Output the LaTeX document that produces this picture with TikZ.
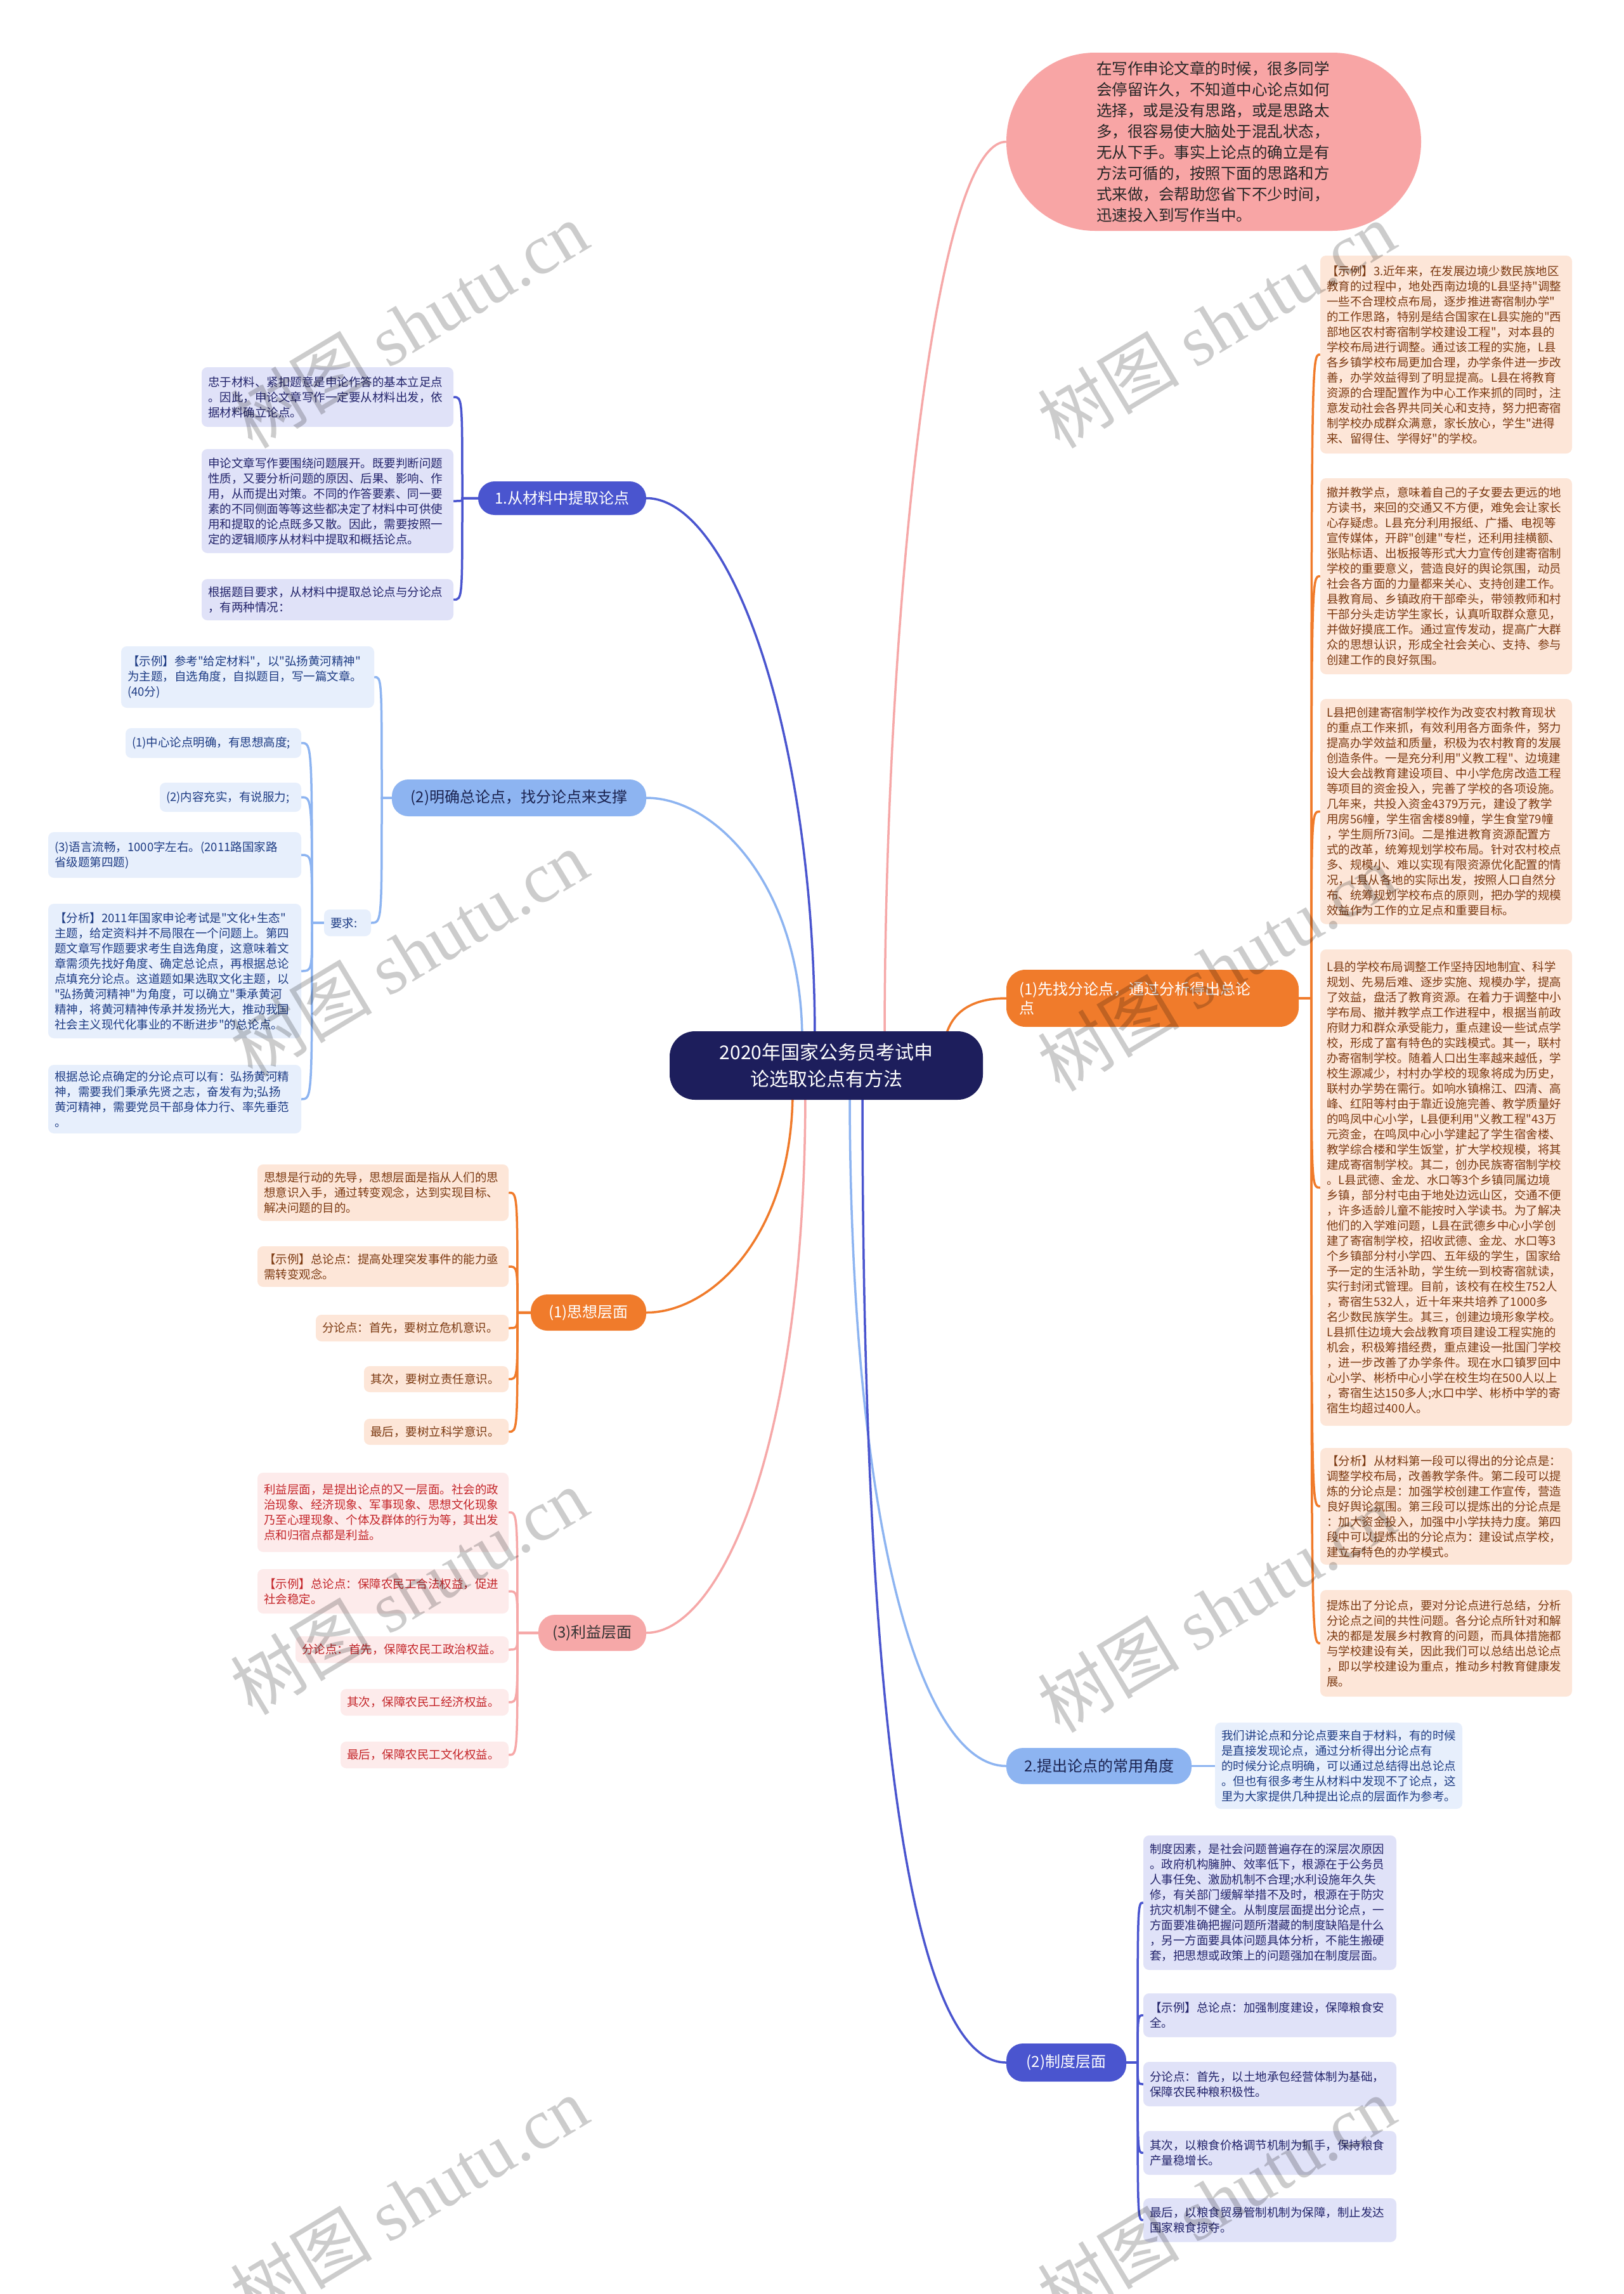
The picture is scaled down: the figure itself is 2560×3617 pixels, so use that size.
\documentclass[tikz,border=0pt]{standalone}
\usepackage{fontspec}
\newfontfamily\cjk{Noto Sans CJK SC}
\newfontfamily\wmlat{Liberation Serif}
\pgfdeclarelayer{bg}
\pgfsetlayers{bg,main}
\definecolor{navy}{HTML}{1D1E5C}
\definecolor{indi}{HTML}{4A55CF}
\definecolor{lav}{HTML}{E0E2F8}
\definecolor{lavtxt}{HTML}{23246B}
\definecolor{lblue}{HTML}{8DB4F1}
\definecolor{lbluefill}{HTML}{E7EFFC}
\definecolor{lbluetxt}{HTML}{1E3C84}
\definecolor{orng}{HTML}{F07B2B}
\definecolor{peach}{HTML}{FDE6D8}
\definecolor{browntxt}{HTML}{7C3A12}
\definecolor{pinkb}{HTML}{F6A8A8}
\definecolor{pinkfill}{HTML}{FDEBEB}
\definecolor{redtxt}{HTML}{C4262A}
\definecolor{ellfill}{HTML}{F8A5A5}
\definecolor{darktxt}{HTML}{1B2350}
\tikzset{
  leaf/.style={rounded corners=9pt, align=left, font=\cjk\fontsize{18.5}{24}\selectfont},
  lavleaf/.style={leaf, fill=lav, text=lavtxt},
  blueleaf/.style={leaf, fill=lbluefill, text=lbluetxt},
  peachleaf/.style={leaf, fill=peach, text=browntxt},
  pinkleaf/.style={leaf, fill=pinkfill, text=redtxt},
  branch/.style={rounded corners=26pt, align=center, font=\cjk\fontsize{24}{30}\selectfont},
  cindi/.style={draw=indi, line width=3.5pt},
  cblue/.style={draw=lblue, line width=3.5pt},
  corng/.style={draw=orng, line width=3.5pt},
  cpink/.style={draw=pinkb, line width=3.5pt},
  wm/.style={text=black, text opacity=0.2, font=\cjk\fontsize{112}{112}\selectfont, rotate=31}
}
\newcommand\bx[8]{%
  \pgfmathsetmacro\bxw{#5-#3}%
  \pgfmathsetmacro\bxh{#6-#4}%
  \pgfmathsetmacro\bxt{#5-#3-2*#7}%
  \node[#1, inner xsep=#7pt, inner ysep=2pt, minimum width=\bxw pt, minimum height=\bxh pt, text width=\bxt pt] (#2) at ({(#3+#5)/2},{(#4+#6)/2}) {#8};}
% left-side child connector: style, parent, spine x, child
\newcommand\lconn[4]{%
  \coordinate (tmpx) at (#3,0);
  \draw[#1] (#2.west) -- (#2.west -| tmpx) .. controls (#4.east -| tmpx) and (#4.east -| tmpx) .. (#4.east);}
% right-side child connector
\newcommand\rconn[4]{%
  \coordinate (tmpx) at (#3,0);
  \draw[#1] (#2.east) -- (#2.east -| tmpx) .. controls (#4.west -| tmpx) and (#4.west -| tmpx) .. (#4.west);}
\begin{document}
\begin{tikzpicture}[x=1pt,y=-1pt]
\useasboundingbox (0,0) rectangle (2560,3617);

% central node
\bx{fill=navy, text=white, rounded corners=40pt, align=center, font=\cjk\fontsize{30}{42}\selectfont}{center}{1056}{1626}{1550}{1734}{20}{2020年国家公务员考试申\\论选取论点有方法}

% top pink ellipse
\bx{fill=ellfill, text=black!85, rounded corners=140pt, align=left, font=\cjk\fontsize{24.5}{33}\selectfont}{ell}{1587}{83}{2241}{364}{142}{在写作申论文章的时候，很多同学\\
会停留许久，不知道中心论点如何\\
选择，或是没有思路，或是思路太\\
多，很容易使大脑处于混乱状态，\\
无从下手。事实上论点的确立是有\\
方法可循的，按照下面的思路和方\\
式来做，会帮助您省下不少时间，\\
迅速投入到写作当中。}

% main branches
\bx{branch, fill=indi, text=white}{N1}{754}{759}{1019}{812}{12}{1.从材料中提取论点}
\bx{branch, fill=lblue, text=darktxt}{N2}{618}{1229}{1019}{1287}{12}{(2)明确总论点，找分论点来支撑}
\bx{branch, fill=orng, text=white}{N3}{837}{2041}{1019}{2098}{12}{(1)思想层面}
\bx{branch, fill=pinkb, text=black!80}{N4}{849}{2546}{1019}{2603}{12}{(3)利益层面}
\bx{branch, fill=orng, text=white, align=left, rounded corners=30pt}{R1}{1587}{1529}{2048}{1619}{20}{(1)先找分论点，通过分析得出总论\\点}
\bx{branch, fill=lblue, text=darktxt}{R2}{1587}{2756}{1879}{2813}{12}{2.提出论点的常用角度}
\bx{branch, fill=indi, text=white}{R3}{1587}{3222}{1776}{3282}{12}{(2)制度层面}

% N1 children
\bx{lavleaf}{L1}{318}{579}{715}{673}{10}{忠于材料、紧扣题意是申论作答的基本立足点\\
。因此，申论文章写作一定要从材料出发，依\\
据材料确立论点。}
\bx{lavleaf}{L2}{318}{708}{715}{872}{10}{申论文章写作要围绕问题展开。既要判断问题\\
性质，又要分析问题的原因、后果、影响、作\\
用，从而提出对策。不同的作答要素、同一要\\
素的不同侧面等等这些都决定了材料中可供使\\
用和提取的论点既多又散。因此，需要按照一\\
定的逻辑顺序从材料中提取和概括论点。}
\bx{lavleaf}{L3}{318}{913}{715}{978}{10}{根据题目要求，从材料中提取总论点与分论点\\
，有两种情况：}

% N2 children
\bx{blueleaf}{M1}{191}{1019}{590}{1116}{10}{【示例】参考"给定材料"，以"弘扬黄河精神"\\
为主题，自选角度，自拟题目，写一篇文章。\\
(40分)}
\bx{blueleaf}{Yq}{511}{1434}{585}{1476}{10}{要求:}
\bx{blueleaf}{M2}{198}{1148}{475}{1195}{10}{(1)中心论点明确，有思想高度;}
\bx{blueleaf}{M3}{252}{1234}{475}{1280}{10}{(2)内容充实，有说服力;}
\bx{blueleaf}{M4}{76}{1312}{475}{1384}{10}{(3)语言流畅，1000字左右。(2011路国家路\\
省级题第四题)}
\bx{blueleaf}{M6}{76}{1425}{475}{1637}{10}{【分析】2011年国家申论考试是"文化+生态"\\
主题，给定资料并不局限在一个问题上。第四\\
题文章写作题要求考生自选角度，这意味着文\\
章需须先找好角度、确定总论点，再根据总论\\
点填充分论点。这道题如果选取文化主题，以\\
"弘扬黄河精神"为角度，可以确立"秉承黄河\\
精神，将黄河精神传承并发扬光大，推动我国\\
社会主义现代化事业的不断进步"的总论点。}
\bx{blueleaf}{M7}{76}{1679}{475}{1787}{10}{根据总论点确定的分论点可以有：弘扬黄河精\\
神，需要我们秉承先贤之志，奋发有为;弘扬\\
黄河精神，需要党员干部身体力行、率先垂范\\
。}

% N3 children
\bx{peachleaf}{S1}{406}{1836}{802}{1925}{10}{思想是行动的先导，思想层面是指从人们的思\\
想意识入手，通过转变观念，达到实现目标、\\
解决问题的目的。}
\bx{peachleaf}{S2}{406}{1965}{802}{2029}{10}{【示例】总论点：提高处理突发事件的能力亟\\
需转变观念。}
\bx{peachleaf}{S3}{498}{2073}{802}{2115}{10}{分论点：首先，要树立危机意识。}
\bx{peachleaf}{S4}{574}{2154}{802}{2195}{10}{其次，要树立责任意识。}
\bx{peachleaf}{S5}{574}{2237}{802}{2278}{10}{最后，要树立科学意识。}

% N4 children
\bx{pinkleaf}{P1}{406}{2322}{802}{2447}{10}{利益层面，是提出论点的又一层面。社会的政\\
治现象、经济现象、军事现象、思想文化现象\\
乃至心理现象、个体及群体的行为等，其出发\\
点和归宿点都是利益。}
\bx{pinkleaf}{P2}{406}{2474}{802}{2544}{10}{【示例】总论点：保障农民工合法权益，促进\\
社会稳定。}
\bx{pinkleaf}{P3}{466}{2580}{802}{2622}{10}{分论点：首先，保障农民工政治权益。}
\bx{pinkleaf}{P4}{537}{2663}{802}{2705}{10}{其次，保障农民工经济权益。}
\bx{pinkleaf}{P5}{537}{2746}{802}{2788}{10}{最后，保障农民工文化权益。}

% R1 children
\bx{peachleaf}{B1}{2082}{403}{2479}{715}{10}{【示例】3.近年来，在发展边境少数民族地区\\
教育的过程中，地处西南边境的L县坚持"调整\\
一些不合理校点布局，逐步推进寄宿制办学"\\
的工作思路，特别是结合国家在L县实施的"西\\
部地区农村寄宿制学校建设工程"，对本县的\\
学校布局进行调整。通过该工程的实施，L县\\
各乡镇学校布局更加合理，办学条件进一步改\\
善，办学效益得到了明显提高。L县在将教育\\
资源的合理配置作为中心工作来抓的同时，注\\
意发动社会各界共同关心和支持，努力把寄宿\\
制学校办成群众满意，家长放心，学生"进得\\
来、留得住、学得好"的学校。}
\bx{peachleaf}{B2}{2082}{754}{2479}{1063}{10}{撤并教学点，意味着自己的子女要去更远的地\\
方读书，来回的交通又不方便，难免会让家长\\
心存疑虑。L县充分利用报纸、广播、电视等\\
宣传媒体，开辟"创建"专栏，还利用挂横额、\\
张贴标语、出板报等形式大力宣传创建寄宿制\\
学校的重要意义，营造良好的舆论氛围，动员\\
社会各方面的力量都来关心、支持创建工作。\\
县教育局、乡镇政府干部牵头，带领教师和村\\
干部分头走访学生家长，认真听取群众意见，\\
并做好摸底工作。通过宣传发动，提高广大群\\
众的思想认识，形成全社会关心、支持、参与\\
创建工作的良好氛围。}
\bx{peachleaf}{B3}{2082}{1102}{2479}{1457}{10}{L县把创建寄宿制学校作为改变农村教育现状\\
的重点工作来抓，有效利用各方面条件，努力\\
提高办学效益和质量，积极为农村教育的发展\\
创造条件。一是充分利用"义教工程"、边境建\\
设大会战教育建设项目、中小学危房改造工程\\
等项目的资金投入，完善了学校的各项设施。\\
几年来，共投入资金4379万元，建设了教学\\
用房56幢，学生宿舍楼89幢，学生食堂79幢\\
，学生厕所73间。二是推进教育资源配置方\\
式的改革，统筹规划学校布局。针对农村校点\\
多、规模小、难以实现有限资源优化配置的情\\
况，L县从各地的实际出发，按照人口自然分\\
布、统筹规划学校布点的原则，把办学的规模\\
效益作为工作的立足点和重要目标。}
\bx{peachleaf}{B4}{2082}{1497}{2479}{2248}{10}{L县的学校布局调整工作坚持因地制宜、科学\\
规划、先易后难、逐步实施、规模办学，提高\\
了效益，盘活了教育资源。在着力于调整中小\\
学布局、撤并教学点工作进程中，根据当前政\\
府财力和群众承受能力，重点建设一些试点学\\
校，形成了富有特色的实践模式。其一，联村\\
办寄宿制学校。随着人口出生率越来越低，学\\
校生源减少，村村办学校的现象将成为历史，\\
联村办学势在需行。如响水镇棉江、四清、高\\
峰、红阳等村由于靠近设施完善、教学质量好\\
的鸣凤中心小学，L县便利用"义教工程"43万\\
元资金，在鸣凤中心小学建起了学生宿舍楼、\\
教学综合楼和学生饭堂，扩大学校规模，将其\\
建成寄宿制学校。其二，创办民族寄宿制学校\\
。L县武德、金龙、水口等3个乡镇同属边境\\
乡镇，部分村屯由于地处边远山区，交通不便\\
，许多适龄儿童不能按时入学读书。为了解决\\
他们的入学难问题，L县在武德乡中心小学创\\
建了寄宿制学校，招收武德、金龙、水口等3\\
个乡镇部分村小学四、五年级的学生，国家给\\
予一定的生活补助，学生统一到校寄宿就读，\\
实行封闭式管理。目前，该校有在校生752人\\
，寄宿生532人，近十年来共培养了1000多\\
名少数民族学生。其三，创建边境形象学校。\\
L县抓住边境大会战教育项目建设工程实施的\\
机会，积极筹措经费，重点建设一批国门学校\\
，进一步改善了办学条件。现在水口镇罗回中\\
心小学、彬桥中心小学在校生均在500人以上\\
，寄宿生达150多人;水口中学、彬桥中学的寄\\
宿生均超过400人。}
\bx{peachleaf}{B5}{2082}{2283}{2479}{2467}{10}{【分析】从材料第一段可以得出的分论点是：\\
调整学校布局，改善教学条件。第二段可以提\\
炼的分论点是：加强学校创建工作宣传，营造\\
良好舆论氛围。第三段可以提炼出的分论点是\\
：加大资金投入，加强中小学扶持力度。第四\\
段中可以提炼出的分论点为：建设试点学校，\\
建立有特色的办学模式。}
\bx{peachleaf}{B6}{2082}{2507}{2479}{2675}{10}{提炼出了分论点，要对分论点进行总结，分析\\
分论点之间的共性问题。各分论点所针对和解\\
决的都是发展乡村教育的问题，而具体措施都\\
与学校建设有关，因此我们可以总结出总论点\\
，即以学校建设为重点，推动乡村教育健康发\\
展。}

% R2 child
\bx{blueleaf}{D1}{1916}{2716}{2306}{2852}{10}{我们讲论点和分论点要来自于材料，有的时候\\
是直接发现论点，通过分析得出分论点有\\
的时候分论点明确，可以通过总结得出总论点\\
。但也有很多考生从材料中发现不了论点，这\\
里为大家提供几种提出论点的层面作为参考。}

% R3 children
\bx{lavleaf}{C1}{1803}{2894}{2202}{3106}{10}{制度因素，是社会问题普遍存在的深层次原因\\
。政府机构臃肿、效率低下，根源在于公务员\\
人事任免、激励机制不合理;水利设施年久失\\
修，有关部门缓解举措不及时，根源在于防灾\\
抗灾机制不健全。从制度层面提出分论点，一\\
方面要准确把握问题所潜藏的制度缺陷是什么\\
，另一方面要具体问题具体分析，不能生搬硬\\
套，把思想或政策上的问题强加在制度层面。}
\bx{lavleaf}{C2}{1803}{3143}{2202}{3212}{10}{【示例】总论点：加强制度建设，保障粮食安\\
全。}
\bx{lavleaf}{C3}{1803}{3251}{2202}{3321}{10}{分论点：首先，以土地承包经营体制为基础，\\
保障农民种粮积极性。}
\bx{lavleaf}{C4}{1803}{3360}{2202}{3429}{10}{其次，以粮食价格调节机制为抓手，保持粮食\\
产量稳增长。}
\bx{lavleaf}{C5}{1803}{3466}{2202}{3535}{10}{最后，以粮食贸易管制机制为保障，制止发达\\
国家粮食掠夺。}

\begin{pgfonlayer}{bg}
\fill[white] (0,0) rectangle (2560,3617);
% center to branches
\draw[cpink] (1395,1640) .. controls (1395,1000) and (1470,224) .. (ell.west);
\draw[cindi] (1285,1640) .. controls (1285,1150) and (1150,785) .. (N1.east);
\draw[cblue] (1265,1640) .. controls (1265,1400) and (1130,1258) .. (N2.east);
\draw[corng] (1490,1640) .. controls (1500,1590) and (1540,1574) .. (R1.west);
\draw[corng] (1250,1720) .. controls (1250,1950) and (1120,2070) .. (N3.east);
\draw[cpink] (1270,1720) .. controls (1270,2300) and (1130,2575) .. (N4.east);
\draw[cblue] (1340,1720) .. controls (1340,2400) and (1450,2784) .. (R2.west);
\draw[cindi] (1360,1720) .. controls (1360,2800) and (1450,3252) .. (R3.west);
% N1
\lconn{cindi}{N1}{729}{L1}
\lconn{cindi}{N1}{729}{L2}
\lconn{cindi}{N1}{729}{L3}
% N2
\lconn{cblue}{N2}{602}{M1}
\lconn{cblue}{N2}{602}{Yq}
\lconn{cblue}{Yq}{492}{M2}
\lconn{cblue}{Yq}{492}{M3}
\lconn{cblue}{Yq}{492}{M4}
\lconn{cblue}{Yq}{492}{M6}
\lconn{cblue}{Yq}{492}{M7}
% N3
\lconn{corng}{N3}{816}{S1}
\lconn{corng}{N3}{816}{S2}
\lconn{corng}{N3}{816}{S3}
\lconn{corng}{N3}{816}{S4}
\lconn{corng}{N3}{816}{S5}
% N4
\lconn{cpink}{N4}{816}{P1}
\lconn{cpink}{N4}{816}{P2}
\lconn{cpink}{N4}{816}{P3}
\lconn{cpink}{N4}{816}{P4}
\lconn{cpink}{N4}{816}{P5}
% R1
\rconn{corng}{R1}{2068}{B1}
\rconn{corng}{R1}{2068}{B2}
\rconn{corng}{R1}{2068}{B3}
\rconn{corng}{R1}{2068}{B4}
\rconn{corng}{R1}{2068}{B5}
\rconn{corng}{R1}{2068}{B6}
% R2
\draw[cblue] (R2.east) -- (D1.west |- R2.east);
% R3
\rconn{cindi}{R3}{1794}{C1}
\rconn{cindi}{R3}{1794}{C2}
\rconn{cindi}{R3}{1794}{C3}
\rconn{cindi}{R3}{1794}{C4}
\rconn{cindi}{R3}{1794}{C5}
\end{pgfonlayer}

% watermarks
\node[wm] (w1) at (645,512) {树图 {\wmlat shutu.cn}};
\node[wm] (w2) at (1918,512) {树图 {\wmlat shutu.cn}};
\node[wm] (w3) at (645,1503) {树图 {\wmlat shutu.cn}};
\node[wm] (w4) at (1918,1526) {树图 {\wmlat shutu.cn}};
\node[wm] (w5) at (645,2509) {树图 {\wmlat shutu.cn}};
\node[wm] (w6) at (1918,2537) {树图 {\wmlat shutu.cn}};
\node[wm] (w7) at (645,3468) {树图 {\wmlat shutu.cn}};
\node[wm] (w8) at (1918,3468) {树图 {\wmlat shutu.cn}};
\end{tikzpicture}
\end{document}
